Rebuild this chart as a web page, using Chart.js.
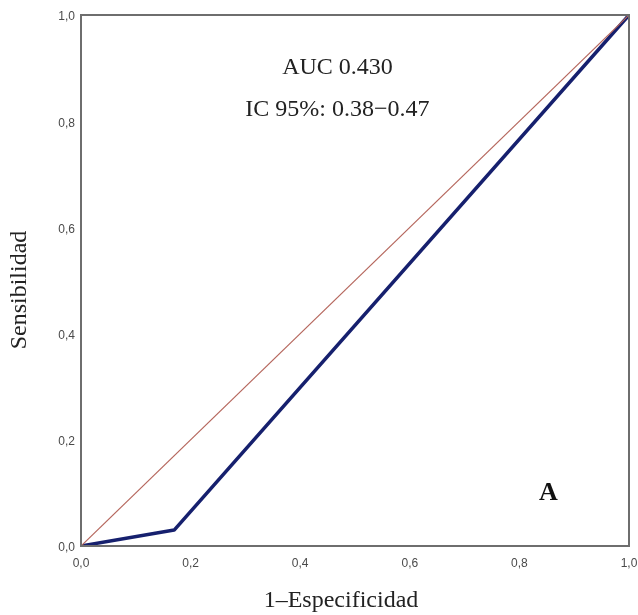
<!DOCTYPE html>
<html lang="es">
<head>
    <meta charset="utf-8" />
    <title>Curva ROC</title>
    <script src="https://cdn.jsdelivr.net/npm/chart.js"></script>
    <style>
        html, body { margin: 0; padding: 0; background: #fff; }
        #wrap { width: 638px; height: 615px; }
    </style>
</head>
<body>
    <div id="wrap"><canvas id="RocChart" width="638" height="615"></canvas></div>
    <script>
        // ROC curve points (1-specificity, sensitivity)
        var rocX = [0, 0.17, 1];
        var rocY = [0, 0.03, 1];
        // reference line
        var refX = [0, 1];
        var refY = [0, 1];
        var tickValues = [0, 0.2, 0.4, 0.6, 0.8, 1];
        var auc = '0.430';
        var ciLow = '0.38';
        var ciHigh = '0.47';
        var panelLabel = 'A';
        var xTitle = '1\u2013Especificidad';
        var yTitle = 'Sensibilidad';

        function toPoints(xs, ys) {
            return xs.map(function (x, i) { return { x: x, y: ys[i] }; });
        }

        function fmt(v) {
            return v.toFixed(1).replace('.', ',');
        }

        // frame, axis titles and the text labels
        var decorations = {
            id: 'decorations',
            afterDraw: function (chart) {
                var ctx = chart.ctx;
                var a = chart.chartArea;
                var xs = chart.scales.x;
                var ys = chart.scales.y;
                ctx.save();
                ctx.strokeStyle = '#6e6e6e';
                ctx.lineWidth = 2;
                ctx.strokeRect(a.left, a.top, a.right - a.left, a.bottom - a.top);

                ctx.fillStyle = '#222';
                ctx.textAlign = 'center';
                ctx.textBaseline = 'middle';
                ctx.font = '24px "Liberation Serif", "Times New Roman", serif';
                ctx.fillText('AUC ' + auc, xs.getPixelForValue(0.468), ys.getPixelForValue(0.9));
                ctx.fillText('IC 95%: ' + ciLow + '\u2212' + ciHigh, xs.getPixelForValue(0.468), ys.getPixelForValue(0.821));

                ctx.fillText(xTitle, 341, 601);
                ctx.save();
                ctx.translate(20, 290);
                ctx.rotate(-Math.PI / 2);
                ctx.fillText(yTitle, 0, 0);
                ctx.restore();

                ctx.fillStyle = '#111';
                ctx.font = 'bold 26px "Liberation Serif", "Times New Roman", serif';
                ctx.fillText(panelLabel, xs.getPixelForValue(0.853), ys.getPixelForValue(0.1));
                ctx.restore();
            }
        };

        const ctx = document.getElementById('RocChart');
        var chart = new Chart(ctx, {
            type: 'line',
            data: {
                datasets: [
                    {
                        label: 'Referencia',
                        data: toPoints(refX, refY),
                        borderColor: '#b5665c',
                        borderWidth: 1.2,
                        pointRadius: 0,
                        fill: false
                    },
                    {
                        label: 'ROC',
                        data: toPoints(rocX, rocY),
                        borderColor: '#16206e',
                        borderWidth: 3.5,
                        pointRadius: 0,
                        fill: false,
                        borderJoinStyle: 'round'
                    }
                ]
            },
            options: {
                responsive: false,
                animation: false,
                layout: { padding: { left: 0, right: 9, top: 15, bottom: 0 } },
                plugins: {
                    legend: { display: false },
                    tooltip: { enabled: false }
                },
                scales: {
                    x: {
                        type: 'linear',
                        min: 0,
                        max: 1,
                        afterBuildTicks: function (scale) {
                            scale.ticks = tickValues.map(function (v) { return { value: v }; });
                        },
                        afterFit: function (scale) {
                            scale.height = 69;
                            scale.paddingLeft = 0;
                            scale.paddingRight = 0;
                        },
                        grid: { display: false, drawTicks: false },
                        border: { display: false },
                        ticks: {
                            padding: 10,
                            color: '#4a4a4a',
                            font: { family: '"Liberation Sans", Arial, sans-serif', size: 12 },
                            callback: function (v) { return fmt(v); },
                            maxRotation: 0
                        }
                    },
                    y: {
                        type: 'linear',
                        min: 0,
                        max: 1,
                        afterBuildTicks: function (scale) {
                            scale.ticks = tickValues.map(function (v) { return { value: v }; });
                        },
                        afterFit: function (scale) {
                            scale.width = 81;
                            scale.paddingTop = 0;
                            scale.paddingBottom = 0;
                        },
                        grid: { display: false, drawTicks: false },
                        border: { display: false },
                        ticks: {
                            padding: 6,
                            labelOffset: 2,
                            color: '#4a4a4a',
                            font: { family: '"Liberation Sans", Arial, sans-serif', size: 12 },
                            callback: function (v) { return fmt(v); }
                        }
                    }
                }
            },
            plugins: [decorations]
        });
    </script>
</body>
</html>
